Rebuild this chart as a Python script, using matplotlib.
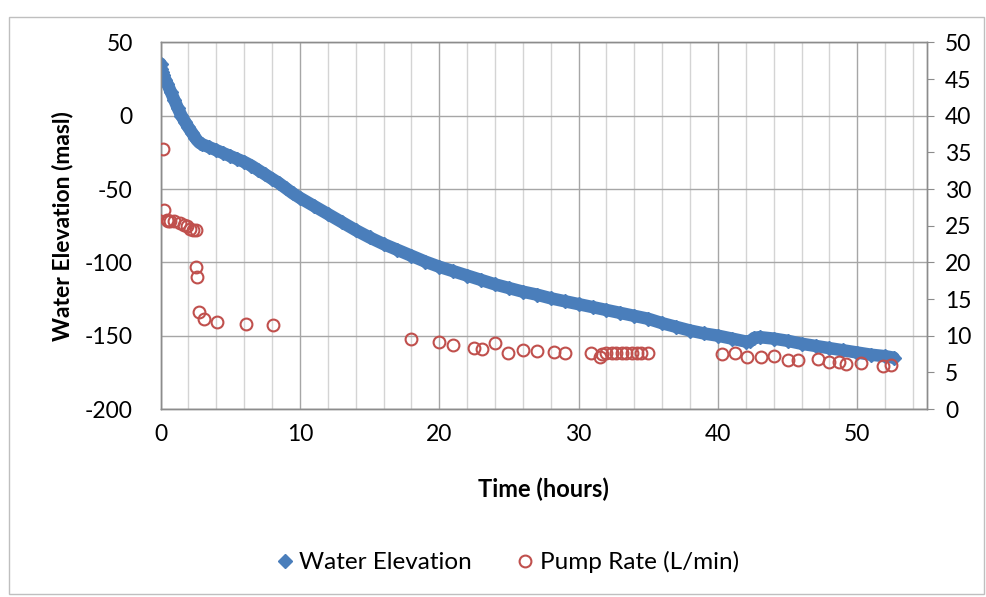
from __future__ import annotations

import matplotlib

matplotlib.use("Agg")
import matplotlib.pyplot as plt
from matplotlib.patches import Rectangle
from matplotlib.ticker import MultipleLocator


BLUE = "#4a7ebb"
RED = "#c0504d"
GRID_MAJOR = "#a6a6a6"
GRID_MINOR = "#d4d4d4"
AXIS_GRAY = "#8c8c8c"

# water elevation (masl) vs time (hours)
ELEV_TIME = [
    0.0, 0.05, 0.1, 0.2, 0.35, 0.5, 0.75, 1.0, 1.25, 1.5, 1.75, 2.0, 2.25, 2.5, 2.6,
    2.8, 3.0, 3.5, 4.0, 4.5, 5.0, 5.5, 6.0, 6.5, 7.0, 7.5, 8.0, 8.5, 9.0, 9.5, 10.0,
    11.0, 12.0, 13.0, 14.0, 15.0, 16.0, 17.0, 18.0, 19.0, 20.0, 21.0, 22.0, 23.0,
    24.0, 25.0, 26.0, 27.0, 28.0, 29.0, 30.0, 31.0, 32.0, 33.0, 34.0, 35.0, 36.0,
    37.0, 38.0, 39.0, 40.0, 41.0, 42.0, 42.3, 42.6, 43.0, 44.0, 45.0, 46.0, 47.0,
    48.0, 49.0, 50.0, 51.0, 52.0, 52.6,
]
ELEV_MASL = [
    35.5, 32.0, 30.0, 27.5, 24.5, 21.5, 16.0, 10.5, 5.0, 0.0, -4.0, -8.0, -11.5, -15.0, -16.5,
    -18.5, -19.5, -21.5, -23.5, -25.5, -27.5, -29.5, -31.5, -34.0, -37.0, -40.0, -43.0, -46.0, -49.5, -53.0, -56.0,
    -61.5, -67.0, -72.5, -78.0, -83.0, -87.5, -91.5, -95.5, -99.5, -103.0, -106.0, -109.0, -112.0,
    -115.0, -117.5, -120.0, -122.0, -124.5, -126.5, -128.5, -130.5, -132.5, -134.5, -136.5, -138.5, -141.5,
    -144.0, -146.5, -148.5, -150.0, -152.0, -154.0, -153.8, -151.5, -151.0, -152.0, -153.5, -155.5, -157.0,
    -158.5, -160.0, -161.5, -163.0, -164.0, -165.0,
]

# pump rate (L/min) vs time (hours)
PUMP_TIME = [
    0.2, 0.25, 0.45, 0.55, 0.7, 1.0, 1.4, 1.65, 1.9, 2.1, 2.35, 2.55, 2.55, 2.6,
    2.76, 3.12, 4.03, 6.1, 8.1,
    17.97, 19.98, 20.96, 22.5, 23.1, 24.0, 24.95, 26.0, 27.0, 28.2, 29.0,
    30.9, 31.5, 31.65, 32.0, 32.4, 32.7, 33.1, 33.4, 33.8, 34.2, 34.5, 35.0,
    40.3, 41.2, 42.1, 43.1, 44.0, 45.0, 45.75, 47.2, 48.0, 48.7, 49.2, 50.25, 51.85, 52.45,
]
PUMP_RATE = [
    35.5, 27.1, 25.8, 25.6, 25.7, 25.7, 25.4, 25.1, 24.9, 24.6, 24.4, 24.4, 19.3, 18.0,
    13.2, 12.3, 11.8, 11.6, 11.5,
    9.55, 9.2, 8.7, 8.3, 8.2, 9.0, 7.7, 8.0, 7.9, 7.8, 7.7,
    7.7, 7.1, 7.5, 7.7, 7.6, 7.6, 7.6, 7.6, 7.6, 7.6, 7.6, 7.6,
    7.45, 7.6, 7.05, 7.1, 7.2, 6.7, 6.7, 6.8, 6.4, 6.4, 6.2, 6.3, 5.9, 6.0,
]

ELEV_TICKS = [-200, -150, -100, -50, 0, 50]
RATE_TICKS = list(range(0, 55, 5))
TIME_TICKS = list(range(0, 55, 10))


def main() -> None:
    plt.rcParams["font.family"] = ["Lato", "DejaVu Sans"]
    plt.rcParams["axes.unicode_minus"] = False

    fig = plt.figure(figsize=(9.86, 5.97), dpi=100)
    fig.patches.append(
        Rectangle((9 / 986, 3 / 597), 975 / 986, 577 / 597, transform=fig.transFigure,
                  fill=False, edgecolor="#bfbfbf", linewidth=1.0)
    )
    ax = fig.add_axes([0.1628, 0.3149, 0.7774, 0.6141])
    ax2 = ax.twinx()

    ax.set_xlim(0, 55)
    ax.set_ylim(-200, 50)
    ax2.set_ylim(0, 50)

    ax.set_xticks(TIME_TICKS)
    ax.xaxis.set_minor_locator(MultipleLocator(2))
    ax.set_yticks(ELEV_TICKS)
    ax2.set_yticks(RATE_TICKS)

    ax.grid(True, which="minor", axis="x", color=GRID_MINOR, linewidth=1.0)
    ax.grid(True, which="major", axis="x", color=GRID_MAJOR, linewidth=1.0)
    ax.grid(True, which="major", axis="y", color=GRID_MAJOR, linewidth=1.0)
    ax.set_axisbelow(True)

    for a in (ax, ax2):
        for side in a.spines.values():
            side.set_color(AXIS_GRAY)
            side.set_linewidth(1.0)
    ax.spines["top"].set_color(GRID_MAJOR)

    ax.tick_params(axis="x", which="both", length=0, pad=11, labelsize=16.5)
    ax.tick_params(axis="y", length=0, pad=20, labelsize=16.5)
    ax2.tick_params(axis="y", length=5, color=AXIS_GRAY, pad=8, labelsize=16.5)

    # thick band underneath so the dense diamond series reads as one trace
    ax.plot(ELEV_TIME, ELEV_MASL, color=BLUE, linewidth=9.0, solid_capstyle="round", zorder=2)
    ax.plot(ELEV_TIME, ELEV_MASL, linestyle="none", marker="D", markersize=7.5,
            color=BLUE, label="Water Elevation", zorder=3)
    ax2.plot(PUMP_TIME, PUMP_RATE, linestyle="none", marker="o", markersize=8.5,
             markerfacecolor="none", markeredgecolor=RED, markeredgewidth=1.5,
             label="Pump Rate (L/min)", zorder=4)

    ax.set_xlabel("Time (hours)", fontsize=17, fontweight="bold", labelpad=23)
    ax.set_ylabel("Water Elevation (masl)", fontsize=16.5, fontweight="bold", labelpad=8)

    handles = ax.get_legend_handles_labels()[0] + ax2.get_legend_handles_labels()[0]
    labels = ["Water Elevation", "Pump Rate (L/min)"]
    fig.legend(handles, labels, loc="center", bbox_to_anchor=(0.513, 0.058), ncol=2,
               frameon=False, fontsize=17.5, handletextpad=0.1, columnspacing=1.7,
               handlelength=1.0)

    fig.savefig("out.png", dpi=100)
    plt.close(fig)


if __name__ == "__main__":
    main()
